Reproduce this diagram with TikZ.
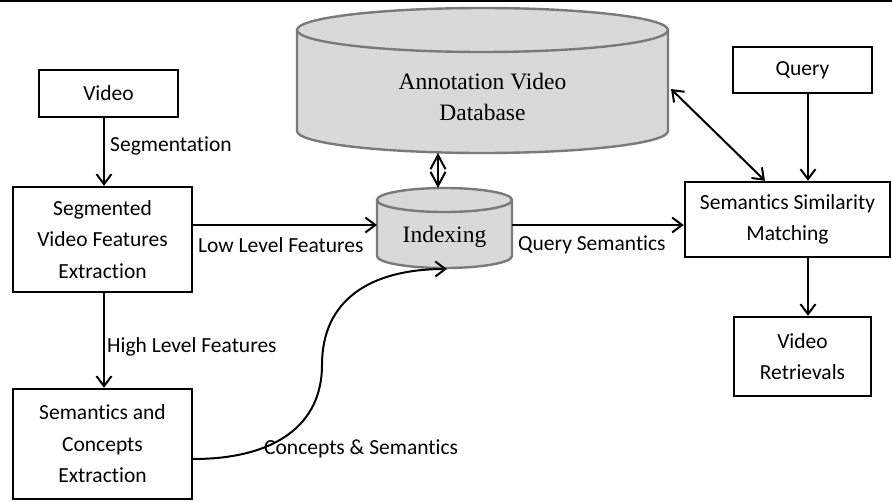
\documentclass[tikz,border=0pt]{standalone}
\usepackage{fontspec}
\newfontfamily\carl[Ligatures=NoCommon]{Carlito}
\newfontfamily\tnr{Liberation Serif}
\usetikzlibrary{arrows.meta,calc}
\definecolor{cylfill}{HTML}{D9D9D9}
\definecolor{cyldraw}{HTML}{7A7A7A}
\tikzset{
  box/.style={draw=black, line width=2.4pt, fill=white, inner sep=0pt, align=center,
    font=\carl\fontsize{21.5}{31.5}\selectfont},
  lbl/.style={inner sep=0pt, anchor=west, font=\carl\fontsize{21.5}{25}\selectfont},
  cyltext/.style={inner sep=0pt, align=center, font=\tnr\fontsize{23.5}{31}\selectfont},
  conn/.style={line width=2pt, -{Straight Barb[length=10pt,width=15pt,line width=2pt]}},
  biconn/.style={line width=2pt, {Straight Barb[length=10pt,width=15pt,line width=2pt]}-{Straight Barb[length=10pt,width=15pt,line width=2pt]}},
  diaconn/.style={line width=2pt, {Straight Barb[length=14pt,width=15pt,line width=2pt]}-{Straight Barb[length=14pt,width=15pt,line width=2pt]}},
  cylbody/.style={fill=cylfill, draw=none},
  cylline/.style={draw=cyldraw, line width=2.4pt},
}
\begin{document}
\begin{tikzpicture}[x=1pt,y=-1pt]
\useasboundingbox (0,0) rectangle (892,501);
\draw[line width=2pt] (0,1) -- (892,1);

% Annotation Video Database cylinder
\fill[cylbody] (297,30) rectangle (668,131);
\fill[cylbody] (482.5,131) ellipse[x radius=185.5, y radius=22];
\fill[cylbody] (482.5,30) ellipse[x radius=185.5, y radius=22];
\draw[cylline] (297,30) -- (297,131) arc[start angle=180, end angle=0, x radius=185.5, y radius=22] -- (668,30);
\draw[cylline] (482.5,30) ellipse[x radius=185.5, y radius=22];
\node[cyltext] (db) at (482.5,97) {Annotation Video\\Database};
\coordinate (dbbot) at (438,153);
\coordinate (dbr) at (671,89);

% Indexing cylinder
\fill[cylbody] (377,200) rectangle (512,256);
\fill[cylbody] (444.5,256) ellipse[x radius=67.5, y radius=12];
\fill[cylbody] (444.5,200) ellipse[x radius=67.5, y radius=12];
\draw[cylline] (377,200) -- (377,256) arc[start angle=180, end angle=0, x radius=67.5, y radius=12] -- (512,200);
\draw[cylline] (444.5,200) ellipse[x radius=67.5, y radius=12];
\node[cyltext] (idx) at (444.5,237) {Indexing};
\coordinate (idxtop) at (438,188);
\coordinate (idxbot) at (447,269);
\coordinate (idxw) at (377,225);
\coordinate (idxe) at (512,225);

% boxes
\node[box, minimum width=139pt, minimum height=47pt] (video) at (108.5,93.5) {Video};
\node[box, minimum width=179pt, minimum height=105pt] (seg) at (102.5,239.5) {Segmented\\Video Features\\Extraction};
\node[box, minimum width=179pt, minimum height=110pt] (sem) at (102.5,444) {Semantics and\\Concepts\\Extraction};
\node[box, minimum width=139pt, minimum height=46pt] (query) at (802.5,70) {Query};
\node[box, minimum width=205pt, minimum height=75pt] (ssm) at (787.5,219.5) {Semantics Similarity\\Matching};
\node[box, minimum width=137pt, minimum height=79pt] (vr) at (802.5,356.5) {Video\\Retrievals};

\coordinate (lx) at (104,0);
\coordinate (rx) at (808,0);
\coordinate (bx) at (765,0);

% connectors
\draw[conn] (video.south -| lx) -- (seg.north -| lx);
\draw[conn] (seg.south -| lx) -- (sem.north -| lx);
\draw[conn] (seg.east |- idxw) -- (idxw);
\draw[conn] (idxe) -- (ssm.west |- idxe);
\draw[conn] (query.south -| rx) -- (ssm.north -| rx);
\draw[conn] (ssm.south -| rx) -- (vr.north -| rx);
\draw[biconn] (dbr) -- (ssm.north -| bx);
\draw[diaconn] (dbbot) -- (idxtop);
\draw[conn] (sem.east |- 0,459) .. controls (275,459) and (322,425) .. (322,365)
  .. controls (322,300) and (370,269) .. (idxbot);

% labels
\node[lbl] (lseg) at (110,146) {Segmentation};
\node[lbl] (lhigh) at (107,347) {High Level Features};
\node[lbl] (llow) at (198,245) {Low Level Features};
\node[lbl] (lqs) at (518,245) {Query Semantics};
\node[lbl] (lcs) at (264,449) {Concepts \& Semantics};
\end{tikzpicture}
\end{document}
